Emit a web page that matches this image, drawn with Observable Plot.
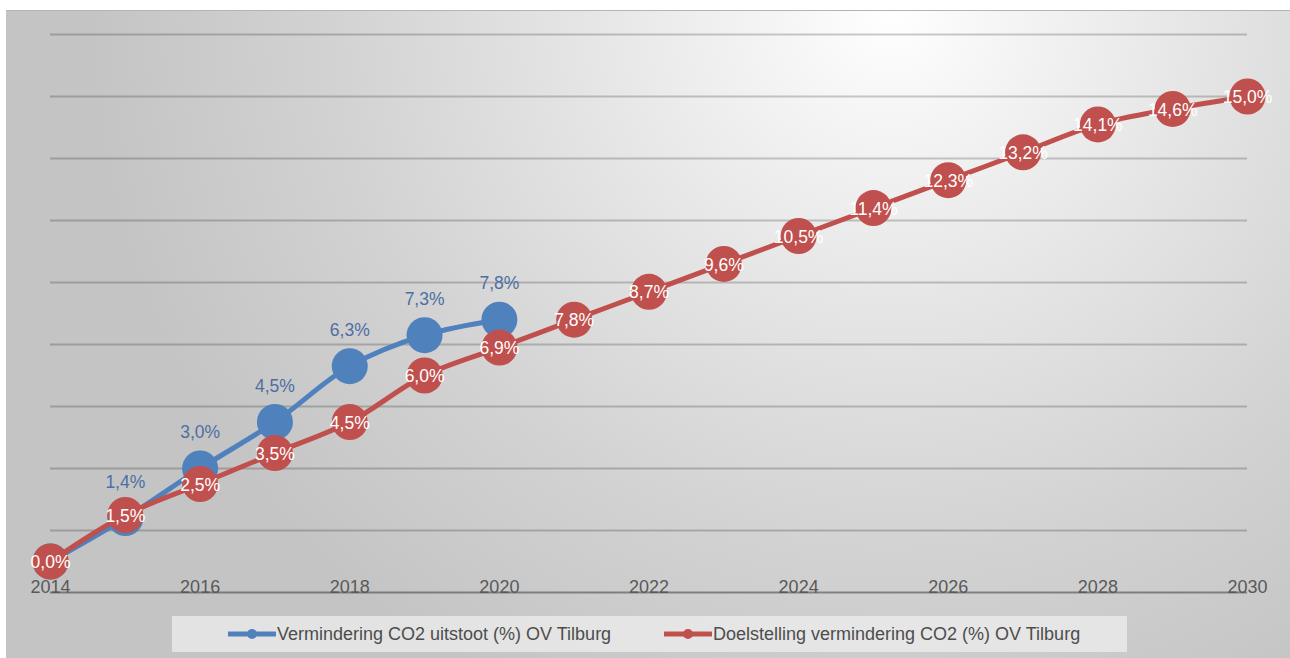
<!DOCTYPE html>
<html>
<head>
<meta charset="utf-8">
<script src="https://cdn.jsdelivr.net/npm/d3@7"></script>
<script src="https://cdn.jsdelivr.net/npm/@observablehq/plot@0.6"></script>
<style>
  html, body { margin: 0; padding: 0; background: #fff; }
  body { width: 1290px; height: 658px; position: relative; overflow: hidden; font-family: "Liberation Sans", Arial, sans-serif; }
  #bg {
    position: absolute; left: 6px; top: 10px; width: 1300px; height: 648px;
    border-top: 1.5px solid #b4b4b4; border-left: 1px solid #c4c4c4;
    background: radial-gradient(ellipse 62% 120% at 68% 0%, #ffffff 0%, #f5f5f5 14%, #e3e3e3 42%, #d2d2d2 70%, #c4c4c4 100%);
  }
  #chart { position: absolute; left: 0; top: 0; }
  #legend {
    position: absolute; left: 172px; top: 616px; width: 955px; height: 36px;
    background: rgba(238,238,238,0.75);
    font-size: 18px; color: #4d4d4d;
  }
  .item { position: absolute; top: 0; height: 36px; display: flex; align-items: center; white-space: nowrap; }
  .item svg { margin-right: 1px; }
</style>
</head>
<body>
<div id="bg"></div>
<div id="chart"></div>
<div id="legend"></div>
<script>
const actualName = "Vermindering CO2 uitstoot (%) OV Tilburg";
const targetName = "Doelstelling vermindering CO2 (%) OV Tilburg";
const actualYears = [2014, 2015, 2016, 2017, 2018, 2019, 2020];
const actualValues = [0.0, 1.4, 3.0, 4.5, 6.3, 7.3, 7.8];
const targetYears = [2014, 2015, 2016, 2017, 2018, 2019, 2020, 2021, 2022, 2023, 2024, 2025, 2026, 2027, 2028, 2029, 2030];
const targetValues = [0.0, 1.5, 2.5, 3.5, 4.5, 6.0, 6.9, 7.8, 8.7, 9.6, 10.5, 11.4, 12.3, 13.2, 14.1, 14.6, 15.0];
const tickYears = [2014, 2016, 2018, 2020, 2022, 2024, 2026, 2028, 2030];
const gridValues = [1, 3, 5, 7, 9, 11, 13, 15, 17];
const axisValue = [-1];

const blue = "#4f81bd";
const red = "#c0504d";
const blueLabel = "#4d6fa3";

const actual = actualYears.map((year, i) => ({year, value: actualValues[i]}));
const target = targetYears.map((year, i) => ({year, value: targetValues[i]}));
const fmt = v => d3.format(".1f")(v).replace(".", ",") + "%";

const chart = Plot.plot({
  width: 1290,
  height: 610,
  marginLeft: 50,
  marginRight: 43,
  marginTop: 34,
  marginBottom: 18,
  x: {domain: [2014, 2030], axis: null},
  y: {domain: [-1, 17], axis: null},
  style: {background: "transparent", fontFamily: "'Liberation Sans', Arial, sans-serif", overflow: "visible"},
  marks: [
    Plot.ruleY(gridValues, {stroke: "#000", strokeOpacity: 0.2, strokeWidth: 2}),
    Plot.ruleY(axisValue, {stroke: "#000", strokeOpacity: 0.38, strokeWidth: 2}),
    Plot.text(tickYears, {x: d => d, y: -1, text: d => String(d), lineAnchor: "bottom", fill: "#595959", fontSize: 18}),
    Plot.line(actual, {x: "year", y: "value", stroke: blue, strokeWidth: 5, curve: "catmull-rom"}),
    Plot.dot(actual, {x: "year", y: "value", r: 18, fill: blue, stroke: "none"}),
    Plot.line(target, {x: "year", y: "value", stroke: red, strokeWidth: 5, curve: "catmull-rom"}),
    Plot.dot(target, {x: "year", y: "value", r: 18, fill: red, stroke: "none"}),
    Plot.text(actual, {filter: d => d.year > 2014, x: "year", y: "value", text: d => fmt(d.value), dy: -36, fill: blueLabel, fontSize: 17.5}),
    Plot.text(target, {x: "year", y: "value", text: d => fmt(d.value), dy: 1, fill: "#ffffff", fontSize: 17.5})
  ]
});
document.getElementById("chart").appendChild(chart);

function sample(color) {
  return `<svg width="48" height="12"><line x1="1" y1="6" x2="47" y2="6" stroke="${color}" stroke-width="5" stroke-linecap="round"/><circle cx="24" cy="6" r="5" fill="${color}"/></svg>`;
}
const legend = document.getElementById("legend");
legend.innerHTML =
  `<div class="item" style="left:56px">${sample(blue)}<span>${actualName}</span></div>` +
  `<div class="item" style="left:492px">${sample(red)}<span>${targetName}</span></div>`;
</script>
</body>
</html>
